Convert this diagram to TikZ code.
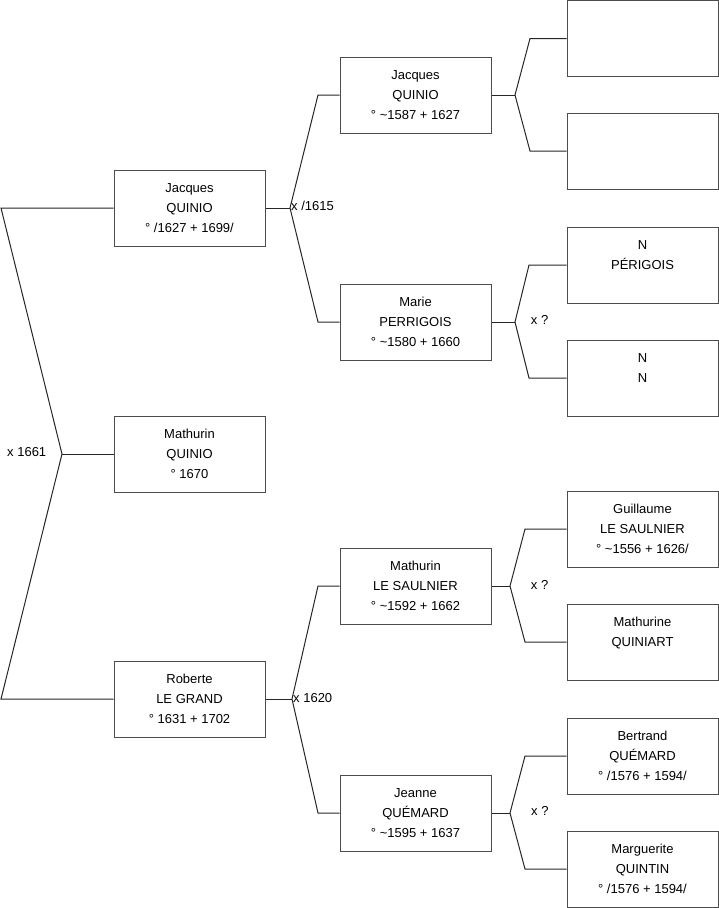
\documentclass[tikz,border=0pt]{standalone}
\usepackage{fontspec}
\setmainfont{Liberation Sans}
\begin{document}
\begin{tikzpicture}[x=1pt,y=-1pt,
  box/.style={draw=black!70, line width=1pt, minimum width=151pt, minimum height=76pt,
    inner sep=0pt, align=center, font=\fontsize{13}{20}\selectfont},
  link/.style={draw=black!85, line width=1pt},
  lab/.style={font=\fontsize{13}{16}\selectfont, inner sep=0pt, anchor=base west}]
\useasboundingbox (0,0) rectangle (719,908);
% generation 1
\node[box] (g1a) at (189.5,208) {\strut Jacques\\\strut QUINIO\\\strut ° /1627 + 1699/};
\node[box] (g1b) at (189.5,454) {\strut Mathurin\\\strut QUINIO\\\strut ° 1670};
\node[box] (g1c) at (189.5,699) {\strut Roberte\\\strut LE GRAND\\\strut ° 1631 + 1702};
% generation 2
\node[box] (g2a) at (415.5,95) {\strut Jacques\\\strut QUINIO\\\strut ° \textasciitilde 1587 + 1627};
\node[box] (g2b) at (415.5,322) {\strut Marie\\\strut PERRIGOIS\\\strut ° \textasciitilde 1580 + 1660};
\node[box] (g2c) at (415.5,586) {\strut Mathurin\\\strut LE SAULNIER\\\strut ° \textasciitilde 1592 + 1662};
\node[box] (g2d) at (415.5,813) {\strut Jeanne\\\strut QUÉMARD\\\strut ° \textasciitilde 1595 + 1637};
% generation 3
\node[box] (g3a) at (642.5,38.5) {};
\node[box] (g3b) at (642.5,151) {};
\node[box] (g3c) at (642.5,265) {\strut N\\\strut PÉRIGOIS\\\strut};
\node[box] (g3d) at (642.5,378) {\strut N\\\strut N\\\strut};
\node[box] (g3e) at (642.5,529) {\strut Guillaume\\\strut LE SAULNIER\\\strut ° \textasciitilde 1556 + 1626/};
\node[box] (g3f) at (642.5,642) {\strut Mathurine\\\strut QUINIART\\\strut};
\node[box] (g3g) at (642.5,756) {\strut Bertrand\\\strut QUÉMARD\\\strut ° /1576 + 1594/};
\node[box] (g3h) at (642.5,869) {\strut Marguerite\\\strut QUINTIN\\\strut ° /1576 + 1594/};
% bend points
\coordinate (L1) at (1,208);
\coordinate (L0) at (62,454);
\coordinate (L2) at (1,699);
\coordinate (A0) at (290,208);
\coordinate (A1) at (318,95);
\coordinate (A2) at (318,322);
\coordinate (B0) at (292,699);
\coordinate (B1) at (318,586);
\coordinate (B2) at (318,813);
\coordinate (C0) at (515,95);
\coordinate (C1) at (530,38.5);
\coordinate (C2) at (530,151);
\coordinate (D0) at (515,322);
\coordinate (D1) at (529,265);
\coordinate (D2) at (529,378);
\coordinate (E0) at (510,586);
\coordinate (E1) at (525,529);
\coordinate (E2) at (525,642);
\coordinate (F0) at (510,813);
\coordinate (F1) at (525,756);
\coordinate (F2) at (525,869);
% connectors
\draw[link] (g1a.west) -- (L1) -- (L0) -- (L2) -- (g1c.west);
\draw[link] (L0) -- (g1b.west);
\draw[link] (g2a.west) -- (A1) -- (A0) -- (A2) -- (g2b.west);
\draw[link] (A0) -- (g1a.east);
\draw[link] (g2c.west) -- (B1) -- (B0) -- (B2) -- (g2d.west);
\draw[link] (B0) -- (g1c.east);
\draw[link] (g3a.west) -- (C1) -- (C0) -- (C2) -- (g3b.west);
\draw[link] (C0) -- (g2a.east);
\draw[link] (g3c.west) -- (D1) -- (D0) -- (D2) -- (g3d.west);
\draw[link] (D0) -- (g2b.east);
\draw[link] (g3e.west) -- (E1) -- (E0) -- (E2) -- (g3f.west);
\draw[link] (E0) -- (g2c.east);
\draw[link] (g3g.west) -- (F1) -- (F0) -- (F2) -- (g3h.west);
\draw[link] (F0) -- (g2d.east);
% marriage labels
\node[lab] (m0) at (7,456.5) {x 1661};
\node[lab] (m1) at (291,210.7) {x /1615};
\node[lab] (m2) at (293,702) {x 1620};
\node[lab] (m3) at (530.7,324) {x ?};
\node[lab] (m4) at (530.7,589) {x ?};
\node[lab] (m5) at (531,815) {x ?};
\end{tikzpicture}
\end{document}
